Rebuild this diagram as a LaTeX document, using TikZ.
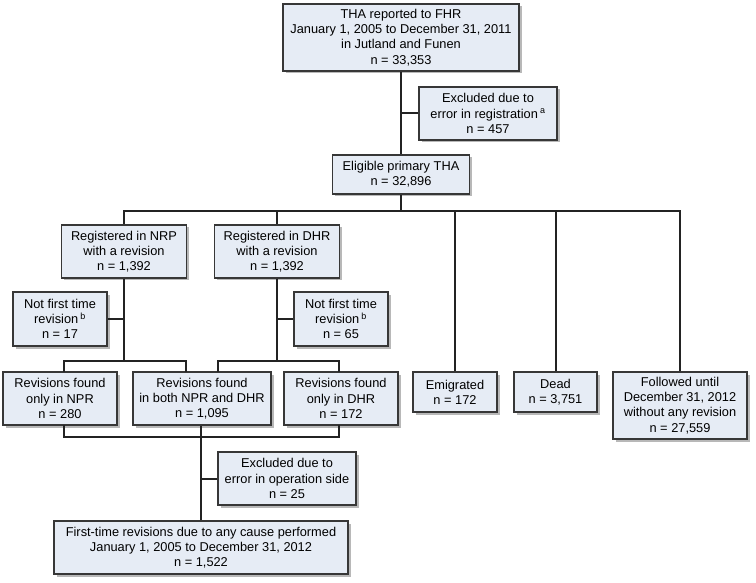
\documentclass[tikz,border=0pt]{standalone}
\usepackage{fontspec}
\setmainfont{Liberation Sans}
\usetikzlibrary{shadows}
\definecolor{boxfill}{RGB}{230,236,245}
\definecolor{boxline}{RGB}{55,55,55}
\definecolor{conn}{RGB}{35,35,35}
\tikzset{
  fbox/.style={draw=boxline, line width=1.3pt, fill=boxfill, align=center, inner sep=0pt,
    font=\fontsize{12.8}{15.2}\selectfont,
    drop shadow={shadow xshift=2.5pt, shadow yshift=-2.5pt, fill=black!55}},
  link/.style={draw=conn, line width=2pt}
}
\begin{document}
\begin{tikzpicture}[x=1pt,y=-1pt]
\useasboundingbox (0,0) rectangle (756,583);
\fill[white] (0,0) rectangle (756,583);

\node[fbox, minimum width=236pt, minimum height=67pt] (top) at (401,37.5)
  {THA reported to FHR\\January 1, 2005 to December 31, 2011\\in Jutland and Funen\\n = 33,353};
\node[fbox, minimum width=138pt, minimum height=53pt] (excl1) at (488,113.5)
  {Excluded due to\\error in registration\,\textsuperscript{a}\\n = 457};
\node[fbox, minimum width=137pt, minimum height=39pt] (elig) at (401,174.5)
  {Eligible primary THA\\n = 32,896};
\node[fbox, minimum width=125pt, minimum height=53pt] (nrp) at (124,251.5)
  {Registered in NRP\\with a revision\\n = 1,392};
\node[fbox, minimum width=125pt, minimum height=53pt] (dhr) at (277,251.5)
  {Registered in DHR\\with a revision\\n = 1,392};
\node[fbox, minimum width=94pt, minimum height=54pt] (nft1) at (60,319)
  {Not first time\\revision\,\textsuperscript{b}\\n = 17};
\node[fbox, minimum width=94pt, minimum height=54pt] (nft2) at (341,319)
  {Not first time\\revision\,\textsuperscript{b}\\n = 65};
\node[fbox, minimum width=114pt, minimum height=53pt] (rev1) at (60,398.5)
  {Revisions found\\only in NPR\\n = 280};
\node[fbox, minimum width=138pt, minimum height=53pt] (rev2) at (202,398.5)
  {Revisions found\\in both NPR and DHR\\n = 1,095};
\node[fbox, minimum width=114pt, minimum height=53pt] (rev3) at (341,398.5)
  {Revisions found\\only in DHR\\n = 172};
\node[fbox, minimum width=84pt, minimum height=40pt] (emig) at (455,392)
  {Emigrated\\n = 172};
\node[fbox, minimum width=83pt, minimum height=40pt] (dead) at (555.5,392)
  {Dead\\n = 3,751};
\node[fbox, minimum width=134pt, minimum height=67pt] (foll) at (680,405.5)
  {Followed until\\December 31, 2012\\without any revision\\n = 27,559};
\node[fbox, minimum width=138pt, minimum height=53pt] (excl2) at (287,478.5)
  {Excluded due to\\error in operation side\\n = 25};
\node[fbox, minimum width=294pt, minimum height=53pt] (final) at (201,547.5)
  {First-time revisions due to any cause performed\\January 1, 2005 to December 31, 2012\\n = 1,522};

% connectors
\coordinate (bus) at (401,211);
\coordinate (lbus) at (124,361);
\coordinate (rbus) at (277,361);
\coordinate (l1) at (64,361);
\coordinate (l2) at (186,361);
\coordinate (r1) at (218,361);
\coordinate (r2) at (339,361);
\coordinate (d1) at (64,372);
\coordinate (d2) at (186,372);
\coordinate (d3) at (218,372);
\coordinate (d4) at (339,372);
\coordinate (u1) at (64,425);
\coordinate (u3) at (339,425);
\coordinate (bb) at (201,437);

\draw[link] (top.south) -- (elig.north);
\draw[link] (excl1.west) -- (excl1.west -| top.south);
\draw[link] (elig.south) -- (bus);
\draw[link] (nrp.north) -- (nrp.north |- bus) -- (foll.north |- bus) -- (foll.north);
\draw[link] (dhr.north) -- (dhr.north |- bus);
\draw[link] (emig.north) -- (emig.north |- bus);
\draw[link] (dead.north) -- (dead.north |- bus);
\draw[link] (nrp.south) -- (lbus);
\draw[link] (nft1.east) -- (nft1.east -| nrp.south);
\draw[link] (dhr.south) -- (rbus);
\draw[link] (nft2.west) -- (nft2.west -| dhr.south);
\draw[link] (d1) -- (l1) -- (l2) -- (d2);
\draw[link] (d3) -- (r1) -- (r2) -- (d4);
\draw[link] (u1) -- (u1 |- bb) -- (u3 |- bb) -- (u3);
\draw[link] (rev2.south -| bb) -- (final.north -| bb);
\draw[link] (excl2.west) -- (excl2.west -| bb);
\end{tikzpicture}
\end{document}
